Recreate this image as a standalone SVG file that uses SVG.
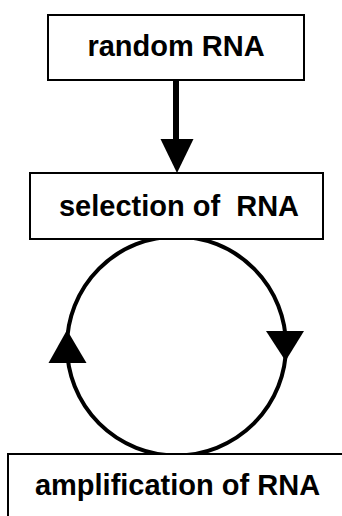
<svg xmlns="http://www.w3.org/2000/svg" width="342" height="516" viewBox="0 0 342 516">
<style>
.box{fill:#fff;stroke:#000;stroke-width:2}
.lbl{font-family:"Liberation Sans",Arial,sans-serif;font-weight:bold;font-size:29px;fill:#000}
.line{fill:none;stroke:#000;stroke-width:4}
.head{fill:#000}
</style>
<rect width="342" height="516" fill="#fff"/>
<g id="connectors">
<line x1="176" y1="80" x2="176" y2="142" stroke="#000" stroke-width="6"/>
<polygon class="head" points="160.5,139 193.5,139 177,173"/>
<circle class="line" cx="176.5" cy="346" r="109.5"/>
<polygon class="head" points="48.5,363 86.5,363 67,330"/>
<polygon class="head" points="266,331 304,331 285.5,361"/>
</g>
<g id="random">
<rect class="box" x="48" y="15" width="256" height="65"/>
<text class="lbl" x="176" y="56" text-anchor="middle">random RNA</text>
</g>
<g id="selection">
<rect class="box" x="30" y="173" width="293" height="66"/>
<text class="lbl" x="179" y="216" text-anchor="middle" xml:space="preserve">selection of  RNA</text>
</g>
<g id="amplification">
<rect class="box" x="8" y="454" width="340" height="70"/>
<text class="lbl" x="177.5" y="495" text-anchor="middle">amplification of RNA</text>
</g>
</svg>
